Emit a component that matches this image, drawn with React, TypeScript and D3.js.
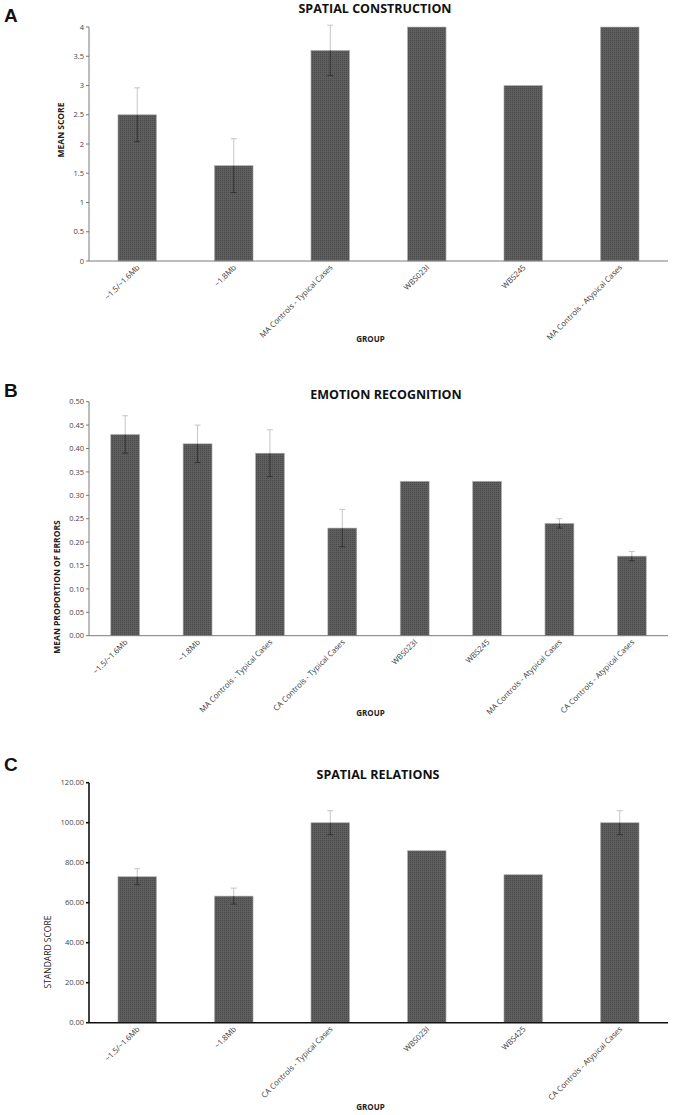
import React from "react";
import * as d3 from "d3";

// ---------- DATA ----------
const catsA = ["~1.5/~1.6Mb", "~1.8Mb", "MA Controls - Typical Cases", "WBS023I", "WBS245", "MA Controls - Atypical Cases"];
const valsA = [2.5, 1.63, 3.6, 4.0, 3.0, 4.0];
const errA = [0.46, 0.46, 0.43, 0, 0, 0];
const ticksA = [0, 0.5, 1, 1.5, 2, 2.5, 3, 3.5, 4];

const catsB = ["~1.5/~1.6Mb", "~1.8Mb", "MA Controls - Typical Cases", "CA Controls - Typical Cases", "WBS023I", "WBS245", "MA Controls - Atypical Cases", "CA Controls - Atypical Cases"];
const valsB = [0.43, 0.41, 0.39, 0.23, 0.33, 0.33, 0.24, 0.17];
const errB = [0.04, 0.04, 0.05, 0.04, 0, 0, 0.01, 0.01];
const ticksB = [0, 0.05, 0.1, 0.15, 0.2, 0.25, 0.3, 0.35, 0.4, 0.45, 0.5];

const catsC = ["~1.5/~1.6Mb", "~1.8Mb", "CA Controls - Typical Cases", "WBS023I", "WBS425", "CA Controls - Atypical Cases"];
const valsC = [73, 63.3, 100, 86, 74, 100];
const errC = [4, 4, 6, 0, 0, 6];
const ticksC = [0, 20, 40, 60, 80, 100, 120];

const FONT = "'Open Sans', 'Noto Sans', sans-serif";

type PanelProps = {
  letter: string;
  title: string;
  yTitle: string;
  yTitleBold: boolean;
  yTitleX: number;
  yTitleY: number;
  cats: string[];
  vals: number[];
  errs: number[];
  ticks: number[];
  fmt: (v: number) => string;
  top: number;
  bottom: number;
  titleY: number;
  titleX: number;
  letterY: number;
  groupY: number;
  axisColor: string;
  axisWidth: number;
};

const LEFT = 89;
const RIGHT = 668;

function Panel(p: PanelProps) {
  const x = d3.scaleBand<string>().domain(p.cats).range([LEFT, RIGHT]).paddingInner(0.6).paddingOuter(0.3);
  const ymax = p.ticks[p.ticks.length - 1];
  const y = d3.scaleLinear().domain([0, ymax]).range([p.bottom, p.top]);
  const bw = x.bandwidth();
  return (
    <g>
      <text x={4} y={p.letterY} fontFamily="Arial, 'Liberation Sans', sans-serif" fontWeight="bold" fontSize={19} fill="#111">{p.letter}</text>
      <text x={p.titleX} y={p.titleY} textAnchor="middle" fontFamily={FONT} fontWeight="bold" fontSize={12.5} fill="#111">{p.title}</text>
      {/* bars */}
      {p.cats.map((c, i) => (
        <rect key={c + i} x={x(c)!} y={y(p.vals[i])} width={bw} height={p.bottom - y(p.vals[i])} fill="url(#dots)" stroke="#b5b5b5" strokeWidth={0.6} />
      ))}
      {/* error bars */}
      {p.cats.map((c, i) => {
        if (!p.errs[i]) return null;
        const cx = x(c)! + bw / 2;
        const yv = y(p.vals[i]);
        const yt = Math.max(y(p.vals[i] + p.errs[i]), p.top - 4);
        const yb = y(p.vals[i] - p.errs[i]);
        return (
          <g key={"e" + i}>
            <line x1={cx} x2={cx} y1={yt} y2={yv} stroke="#b8b8b8" strokeWidth={0.8} />
            <line x1={cx - 3} x2={cx + 3} y1={yt} y2={yt} stroke="#b8b8b8" strokeWidth={0.8} />
            <line x1={cx} x2={cx} y1={yv} y2={yb} stroke="#2a2a2a" strokeWidth={0.8} />
            <line x1={cx - 3} x2={cx + 3} y1={yb} y2={yb} stroke="#2a2a2a" strokeWidth={0.8} />
          </g>
        );
      })}
      {/* y axis */}
      <line x1={LEFT} x2={LEFT} y1={p.top} y2={p.bottom} stroke={p.axisColor} strokeWidth={p.axisWidth} />
      {p.ticks.map((t) => (
        <g key={"t" + t}>
          <line x1={LEFT - 3} x2={LEFT} y1={y(t)} y2={y(t)} stroke={p.axisColor} strokeWidth={p.axisWidth} />
          <text x={LEFT - 5} y={y(t) + 2.6} textAnchor="end" fontFamily={FONT} fontSize={7.5} fill="#444">{p.fmt(t)}</text>
        </g>
      ))}
      {/* x axis */}
      <line x1={LEFT} x2={RIGHT} y1={p.bottom} y2={p.bottom} stroke={p.axisColor} strokeWidth={p.axisWidth} />
      {p.cats.map((c, i) => {
        const cx = x(c)! + bw / 2 + 3;
        const ty = p.bottom + 7;
        return (
          <text key={"l" + i} x={cx} y={ty} transform={`rotate(-45 ${cx} ${ty})`} textAnchor="end" fontFamily={FONT} fontSize={7.8} fill="#3a3a3a">{c}</text>
        );
      })}
      <text x={LEFT + (RIGHT - LEFT) / 2 - 8} y={p.groupY} textAnchor="middle" fontFamily={FONT} fontWeight="bold" fontSize={8} fill="#222">GROUP</text>
      <text transform={`translate(${p.yTitleX},${p.yTitleY}) rotate(-90)`} textAnchor="middle" fontFamily={FONT} fontWeight={p.yTitleBold ? "bold" : "normal"} fontSize={8.5} fill="#222">{p.yTitle}</text>
    </g>
  );
}

export default function App() {
  return (
    <svg width={674} height={1115} style={{ position: "absolute", left: 0, top: 0, background: "#fff" }}>
      <defs>
        <pattern id="dots" width={2} height={2} patternUnits="userSpaceOnUse">
          <rect width={2} height={2} fill="#5e5e5e" />
          <rect width={1} height={1} fill="#4a4a4a" />
        </pattern>
      </defs>
      <rect width={674} height={1115} fill="#fff" />
      <Panel letter="A" title="SPATIAL CONSTRUCTION" yTitle="MEAN SCORE" yTitleBold={true} yTitleX={64} yTitleY={130}
        cats={catsA} vals={valsA} errs={errA} ticks={ticksA} fmt={(v) => String(v)}
        top={27} bottom={261} titleY={13} titleX={375} letterY={22} groupY={342} axisColor="#7a7a7a" axisWidth={1} />
      <Panel letter="B" title="EMOTION RECOGNITION" yTitle="MEAN PROPORTION OF ERRORS" yTitleBold={true} yTitleX={60} yTitleY={587}
        cats={catsB} vals={valsB} errs={errB} ticks={ticksB} fmt={(v) => v.toFixed(2)}
        top={401.7} bottom={635.7} titleY={399} titleX={386} letterY={397} groupY={716} axisColor="#7a7a7a" axisWidth={1} />
      <Panel letter="C" title="SPATIAL RELATIONS" yTitle="STANDARD SCORE" yTitleBold={false} yTitleX={51} yTitleY={952}
        cats={catsC} vals={valsC} errs={errC} ticks={ticksC} fmt={(v) => v.toFixed(2)}
        top={782.7} bottom={1022.7} titleY={779} titleX={378} letterY={771} groupY={1110} axisColor="#111" axisWidth={1.6} />
    </svg>
  );
}
